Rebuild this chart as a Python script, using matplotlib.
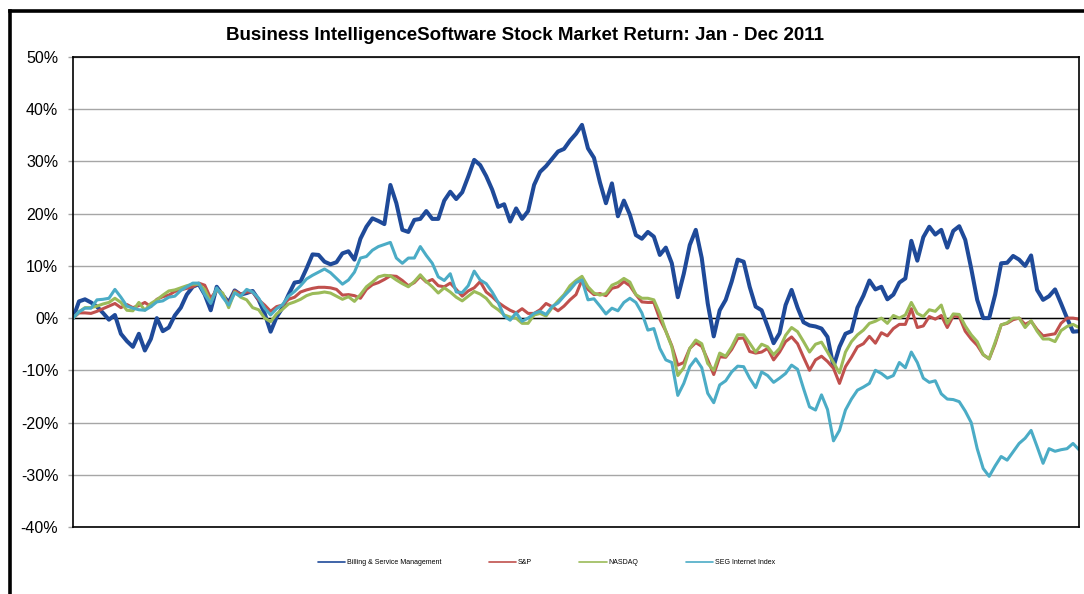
import matplotlib
matplotlib.use("Agg")
import matplotlib.pyplot as plt
from matplotlib.lines import Line2D
from matplotlib.ticker import FuncFormatter

plt.rcParams['font.family'] = ['Liberation Sans', 'DejaVu Sans']

title = "Business IntelligenceSoftware Stock Market Return: Jan - Dec 2011"
series_names = ["Billing & Service Management", "S&P", "NASDAQ", "SEG Internet Index"]
colors = ["#1F4A99", "#C0504D", "#9BBB59", "#4BACC6"]

bsm = [0, 3.2, 3.6, 3.0, 2.2, 1.0, -0.3, 0.6, -3.0, -4.4, -5.5, -3.0, -6.2, -4.0, 0.0, -2.5, -1.8, 0.5, 2.0, 4.5,
       6.0, 6.5, 4.5, 1.5, 6.0, 4.4, 3.0, 5.3, 4.5, 4.8, 5.2, 3.5, 0.9, -2.6, 0.2, 2.0, 4.5, 6.8, 7.0, 9.5,
       12.2, 12.1, 10.8, 10.3, 10.7, 12.4, 12.8, 11.2, 15.2, 17.5, 19.1, 18.6, 18.0, 25.5, 22.0, 16.9, 16.5, 18.8, 19.0, 20.5,
       19.0, 19.0, 22.5, 24.2, 22.8, 24.1, 27.1, 30.3, 29.3, 27.2, 24.6, 21.3, 21.8, 18.5, 21.0, 19.0, 20.5, 25.5, 28.0, 29.1,
       30.5, 31.9, 32.4, 34.0, 35.3, 37.0, 32.5, 30.7, 26.0, 22.0, 25.8, 19.5, 22.5, 19.8, 15.9, 15.2, 16.5, 15.6, 12.1, 13.5,
       10.5, 4.0, 8.5, 14.0, 16.9, 11.5, 2.8, -3.5, 1.5, 3.5, 7.0, 11.2, 10.8, 6.0, 2.2, 1.5, -1.6, -4.8, -2.9, 2.5,
       5.4, 2.0, -0.8, -1.4, -1.6, -2.0, -3.6, -9.3, -5.5, -3.0, -2.5, 2.0, 4.3, 7.2, 5.5, 6.0, 3.6, 4.5, 6.8, 7.6,
       14.8, 11.0, 15.5, 17.5, 16.0, 16.9, 13.5, 16.7, 17.6, 15.0, 9.5, 3.5, 0.0, 0.0, 4.5, 10.5, 10.6, 11.9, 11.2, 10.0,
       12.0, 5.4, 3.5, 4.2, 5.5, 2.8, 0.0, -2.6, -2.5]

sp = [0.0, 1.0, 1.0, 0.9, 1.3, 1.8, 2.3, 2.8, 2.0, 2.6, 2.0, 2.4, 3.0, 2.2, 3.6, 4.1, 4.4, 5.1, 5.4, 5.7,
      6.0, 6.7, 6.3, 3.8, 5.4, 4.5, 2.6, 5.2, 4.6, 5.0, 5.0, 3.5, 2.5, 1.3, 2.2, 2.5, 3.6, 4.0, 5.0, 5.4,
      5.7, 5.9, 5.9, 5.8, 5.5, 4.4, 4.5, 4.3, 3.8, 5.5, 6.4, 6.8, 7.4, 8.1, 8.0, 7.2, 6.2, 6.8, 8.0, 6.9,
      7.4, 6.2, 6.0, 6.7, 5.5, 4.2, 5.2, 5.8, 7.0, 5.0, 4.1, 3.0, 2.2, 1.5, 1.0, 1.8, 0.9, 0.9, 1.6, 2.8,
      2.2, 1.4, 2.3, 3.5, 4.5, 7.3, 5.5, 4.5, 4.7, 4.3, 5.7, 6.0, 7.0, 6.2, 4.5, 3.1, 3.0, 3.0, -0.2, -2.5,
      -5.3, -9.0, -8.5, -5.8, -4.7, -5.4, -8.0, -10.8, -7.4, -7.5, -6.0, -3.9, -3.8, -6.4, -6.7, -6.5, -5.8, -8.0, -6.5, -4.5,
      -3.6, -4.9, -7.5, -10.0, -8.0, -7.3, -8.3, -9.6, -12.5, -9.3, -7.5, -5.5, -4.9, -3.5, -4.8, -2.8, -3.4, -2.0, -1.2, -1.2,
      1.8, -1.8, -1.5, 0.3, -0.2, 0.5, -1.8, 0.4, 0.3, -2.5, -4.0, -5.2, -7.0, -7.8, -4.9, -1.3, -1.0, -0.3, 0.0, -1.2,
      -0.6, -2.2, -3.4, -3.2, -3.0, -1.0, 0.0, 0.0, -0.2]

nasdaq = [0.0, 1.2, 2.0, 2.0, 2.3, 2.7, 3.0, 3.8, 3.0, 1.5, 1.4, 3.0, 1.5, 2.8, 3.5, 4.4, 5.2, 5.4, 5.8, 6.2,
          6.5, 6.5, 5.5, 3.0, 5.5, 4.8, 2.0, 5.0, 4.0, 3.5, 2.0, 1.6, 0.0, -0.7, 0.8, 1.7, 2.7, 3.1, 3.6, 4.3,
          4.7, 4.8, 5.0, 4.8, 4.2, 3.6, 4.1, 3.2, 4.5, 6.0, 6.9, 7.9, 8.2, 8.1, 7.3, 6.6, 6.0, 7.0, 8.3, 7.0,
          6.0, 4.8, 5.8, 5.0, 4.0, 3.3, 4.2, 5.1, 4.6, 3.8, 2.4, 1.6, 0.6, 0.2, 0.0, -1.0, -1.0, 0.6, 0.9, 0.4,
          2.0, 3.3, 4.5, 6.2, 7.2, 8.0, 6.0, 4.8, 4.4, 4.7, 6.3, 6.8, 7.6, 6.9, 4.5, 3.8, 3.8, 3.5, 0.9, -2.5,
          -5.5, -11.0, -9.5, -5.8, -4.2, -4.9, -8.7, -10.0, -6.7, -7.3, -5.5, -3.2, -3.2, -4.8, -6.5, -5.0, -5.5, -7.0, -5.8, -3.3,
          -1.8, -2.6, -4.5, -6.5, -5.0, -4.6, -6.5, -8.5, -10.5, -6.5, -4.5, -3.2, -2.3, -1.0, -0.6, 0.0, -1.0, 0.5, 0.0, 0.6,
          3.0, 0.9, 0.3, 1.6, 1.3, 2.5, -1.0, 0.8, 0.7, -1.5, -3.2, -4.5, -7.0, -7.8, -4.6, -1.3, -0.9, 0.0, 0.0, -1.8,
          -0.5, -2.5, -4.0, -4.0, -4.5, -2.4, -1.6, -1.2, -1.8]

seg = [0.0, 1.2, 1.9, 1.9, 3.5, 3.6, 3.8, 5.5, 4.0, 2.3, 1.9, 1.6, 1.5, 2.2, 3.1, 3.3, 4.0, 4.2, 5.3, 6.0,
       6.7, 6.7, 4.5, 2.8, 5.8, 4.0, 2.5, 4.8, 4.2, 5.5, 5.0, 3.8, 1.9, 0.6, 1.8, 2.6, 4.2, 5.1, 6.2, 7.5,
       8.2, 8.8, 9.4, 8.7, 7.6, 6.5, 7.3, 8.8, 11.5, 11.8, 13.0, 13.7, 14.1, 14.5, 11.5, 10.5, 11.5, 11.5, 13.7, 12.0,
       10.5, 7.9, 7.2, 8.5, 5.0, 4.9, 6.2, 9.0, 7.3, 6.6, 5.0, 3.0, 0.4, -0.4, 1.0, -0.6, 0.0, 0.9, 1.3, 0.7,
       2.2, 2.9, 4.2, 5.4, 6.8, 7.3, 3.5, 3.7, 2.3, 0.8, 1.9, 1.4, 3.0, 3.8, 3.0, 1.0, -2.3, -2.0, -5.8, -8.0,
       -8.5, -14.8, -12.5, -9.3, -7.8, -9.5, -14.4, -16.2, -12.8, -12.0, -10.3, -9.2, -9.3, -11.5, -13.3, -10.3, -11.0, -12.3, -11.5, -10.6,
       -9.0, -9.8, -13.5, -17.0, -17.6, -14.7, -17.5, -23.5, -21.5, -17.6, -15.5, -13.8, -13.2, -12.5, -10.0, -10.6, -11.5, -11.0, -8.5, -9.5,
       -6.5, -8.5, -11.5, -12.3, -12.0, -14.5, -15.5, -15.6, -16.0, -17.8, -20.0, -25.0, -28.8, -30.3, -28.3, -26.5, -27.2, -25.6, -24.0, -23.0,
       -21.5, -24.6, -27.8, -25.0, -25.5, -25.2, -25.0, -24.0, -25.2]

y_ticks = [-40, -30, -20, -10, 0, 10, 20, 30, 40, 50]

W, H = 1084, 594
fig = plt.figure(figsize=(W / 100, H / 100), dpi=100)
ax = fig.add_axes([73 / W, 1 - 527 / H, (1079 - 73) / W, (527 - 57) / H])

series = [bsm, sp, nasdaq, seg]
widths = [2.9, 2.2, 2.2, 2.2]
lines = []
for name, vals, c, lw in zip(series_names, series, colors, widths):
    ln, = ax.plot(range(len(vals)), vals, color=c, lw=lw, label=name,
                  solid_joinstyle='round', solid_capstyle='round')
    lines.append(ln)

ax.set_xlim(0, len(bsm) - 1)
ax.set_ylim(y_ticks[0], y_ticks[-1])
ax.set_yticks(y_ticks)
ax.yaxis.set_major_formatter(FuncFormatter(lambda v, p: f"{v:.0f}%"))
ax.set_xticks([])
ax.grid(axis='y', color='#A6A6A6', lw=1.0)
ax.set_axisbelow(True)
ax.axhline(0, color='black', lw=1.0, zorder=1.5)
ax.tick_params(axis='y', length=3.6, width=1.0, color='#A6A6A6', pad=7, labelsize=11.5, labelcolor='black')
for s in ax.spines.values():
    s.set_color('black')
    s.set_linewidth(1.2)

fig.text(525 / W, 1 - 36 / H, title, ha='center', va='center', fontsize=13.5, fontweight='bold')

leg = fig.legend(handles=lines, labels=series_names, loc='center', ncol=4,
                 bbox_to_anchor=(546.5 / W, 1 - 563 / H), frameon=False, fontsize=5.0,
                 handlelength=3.9, handletextpad=0.3, columnspacing=6.8)
for lh in leg.get_lines():
    lh.set_linewidth(1.2)

# outer frame (left and top edges visible)
fig.add_artist(Line2D([9.5 / W, 9.5 / W], [0, 1 - 11 / H], transform=fig.transFigure, color='black', lw=2.6))
fig.add_artist(Line2D([9.5 / W, 1], [1 - 11 / H, 1 - 11 / H], transform=fig.transFigure, color='black', lw=2.6))

fig.savefig("out.png", dpi=100)
